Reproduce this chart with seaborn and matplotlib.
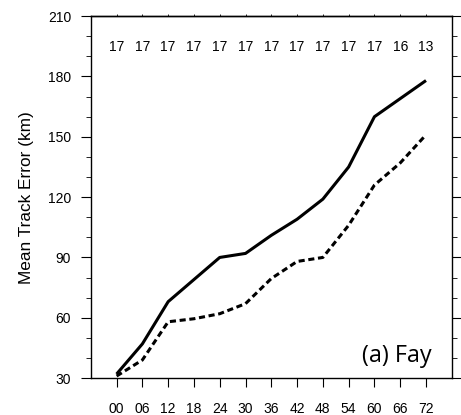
import matplotlib
matplotlib.use("Agg")
import matplotlib.pyplot as plt
from matplotlib.ticker import MultipleLocator
import seaborn as sns
import pandas as pd

# Forecast lead times (hours) and their labels
lead_hours = [0, 6, 12, 18, 24, 30, 36, 42, 48, 54, 60, 66, 72]
lead_labels = ["00", "06", "12", "18", "24", "30", "36", "42", "48", "54", "60", "66", "72"]

# Mean track error (km) for the two experiments
error_solid = [32, 47, 68, 79, 90, 92, 101, 109, 119, 135, 160, 169, 178]
error_dashed = [31, 39, 58, 59.5, 62, 67, 79.5, 88, 90, 106, 126, 137, 151]

# Number of verifying cases at each lead time
case_counts = [17, 17, 17, 17, 17, 17, 17, 17, 17, 17, 17, 16, 13]

y_ticks = [30, 60, 90, 120, 150, 180, 210]

sns.set_theme(style="ticks")
plt.rcParams["font.family"] = ["Liberation Sans", "DejaVu Sans"]
plt.rcParams.update({
    "text.color": "black",
    "axes.labelcolor": "black",
    "xtick.color": "black",
    "ytick.color": "black",
    "axes.edgecolor": "black",
})

df = pd.DataFrame({
    "lead": lead_hours * 2,
    "error": error_solid + error_dashed,
    "run": ["solid"] * len(lead_hours) + ["dashed"] * len(lead_hours),
})

fig = plt.figure(figsize=(4.61, 4.15), dpi=100)
ax = fig.add_axes([0.197, 0.089, 0.783, 0.872])

sns.lineplot(data=df[df["run"] == "solid"], x="lead", y="error", ax=ax,
             color="black", linewidth=2.2, solid_capstyle="butt")
sns.lineplot(data=df[df["run"] == "dashed"], x="lead", y="error", ax=ax,
             color="black", linewidth=2.2, linestyle=(0, (2.0, 1.2)),
             dash_capstyle="butt")

ax.set_xlim(-6, 78)
ax.set_ylim(30, 210)
ax.set_xticks(lead_hours)
ax.set_xticklabels(lead_labels)
ax.set_yticks(y_ticks)
ax.yaxis.set_minor_locator(MultipleLocator(10))

ax.set_xlabel("")
ax.set_ylabel("Mean Track Error (km)", fontsize=12.4, labelpad=10)

for s in ax.spines.values():
    s.set_visible(True)
    s.set_color("black")
    s.set_linewidth(1.0)

ax.tick_params(axis="y", which="major", direction="out", length=7.2, width=0.8,
               left=True, right=True, labelsize=10, pad=7)
ax.tick_params(axis="y", which="minor", direction="out", length=3.6, width=0.6,
               left=True, right=True)
ax.tick_params(axis="x", which="major", direction="out", length=6.5, width=0.8,
               top=False, bottom=True, labelsize=10, pad=10.5)
ax.tick_params(axis="x", which="minor", bottom=False, top=False)

# Short ticks along the top edge
tx = ax.secondary_xaxis("top")
tx.set_xticks(lead_hours)
tx.tick_params(axis="x", direction="out", length=1.8, width=0.6, labeltop=False)
tx.spines["top"].set_linewidth(1.0)

# Case counts along the top
for h, n in zip(lead_hours, case_counts):
    ax.text(h, 194.7, str(n), ha="center", va="center", fontsize=10)

ax.text(0.945, 0.044, "(a) Fay", transform=ax.transAxes, ha="right", va="baseline",
        fontsize=16.8, family=["Open Sans", "DejaVu Sans"])

fig.savefig("out.png", dpi=100)
